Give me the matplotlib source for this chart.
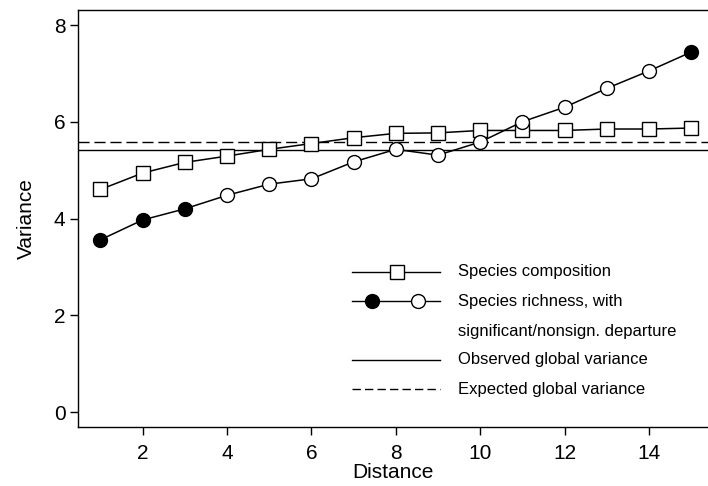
import numpy as np
import matplotlib.pyplot as plt

plt.rcParams['font.family'] = ['Liberation Sans', 'DejaVu Sans']

# data
distance = np.arange(1, 16)
composition = [4.60, 4.94, 5.16, 5.29, 5.43, 5.55, 5.67, 5.76, 5.77, 5.82, 5.82, 5.82, 5.85, 5.85, 5.87]
richness = [3.56, 3.97, 4.20, 4.48, 4.71, 4.82, 5.17, 5.43, 5.31, 5.58, 6.00, 6.30, 6.69, 7.05, 7.44]
significant = [True, True, True, False, False, False, False, False, False, False, False, False, False, False, True]
observed_var = 5.42
expected_var = 5.58

xticks = [2, 4, 6, 8, 10, 12, 14]
yticks = [0, 2, 4, 6, 8]

fig = plt.figure(figsize=(7.08, 4.86), dpi=100)
ax = fig.add_axes([0.110, 0.1214, 0.890, 0.858])

dash = (0, (8, 3.5))
ax.axhline(observed_var, color='black', lw=1.0)
ax.axhline(expected_var, color='black', lw=1.0, ls=dash)

ax.plot(distance, composition, color='black', lw=1.1, marker='s', ms=10,
        mfc='white', mec='black', mew=1.0, zorder=3)

sig = np.array(significant)
rich = np.array(richness)
ax.plot(distance, rich, color='black', lw=1.1, zorder=3)
ax.plot(distance[~sig], rich[~sig], ls='none', marker='o', ms=10,
        mfc='white', mec='black', mew=1.0, zorder=4)
ax.plot(distance[sig], rich[sig], ls='none', marker='o', ms=10,
        mfc='black', mec='black', mew=1.0, zorder=4)

ax.set_xlim(0.465, 15.4)
ax.set_ylim(-0.31, 8.31)
ax.set_xticks(xticks)
ax.set_yticks(yticks)
ax.tick_params(direction='out', length=6, width=1, labelsize=15)
ax.tick_params(axis='x', pad=6)
ax.tick_params(axis='y', pad=3)
ax.spines['right'].set_visible(False)
for s in ['left', 'bottom', 'top']:
    ax.spines[s].set_linewidth(1.0)
ax.set_xlabel('Distance', fontsize=15, labelpad=0)
ax.set_ylabel('Variance', fontsize=15, labelpad=13)

# hand-drawn legend (axes fraction)
tr = ax.transAxes
x0, x1, xt = 0.435, 0.575, 0.603
rows = [0.372, 0.302, 0.230, 0.161, 0.091]
kw = dict(transform=tr, clip_on=False, color='black', lw=1.0)
ax.plot([x0, x1], [rows[0]] * 2, **kw)
ax.plot([0.506], [rows[0]], marker='s', ms=10, mfc='white', mec='black', mew=1.0, **kw)
ax.plot([x0, x1], [rows[1]] * 2, **kw)
ax.plot([0.467], [rows[1]], marker='o', ms=10, mfc='black', mec='black', **kw)
ax.plot([0.540], [rows[1]], marker='o', ms=10, mfc='white', mec='black', **kw)
ax.plot([x0, x1], [rows[3]] * 2, **kw)
ax.plot([x0, x1], [rows[4]] * 2, ls=(0, (6, 3)), **kw)
labels = ['Species composition', 'Species richness, with', 'significant/nonsign. departure',
          'Observed global variance', 'Expected global variance']
for yy, lab in zip(rows, labels):
    ax.text(xt, yy, lab, transform=tr, fontsize=12, va='center', ha='left')

fig.savefig('out.png', dpi=100)
